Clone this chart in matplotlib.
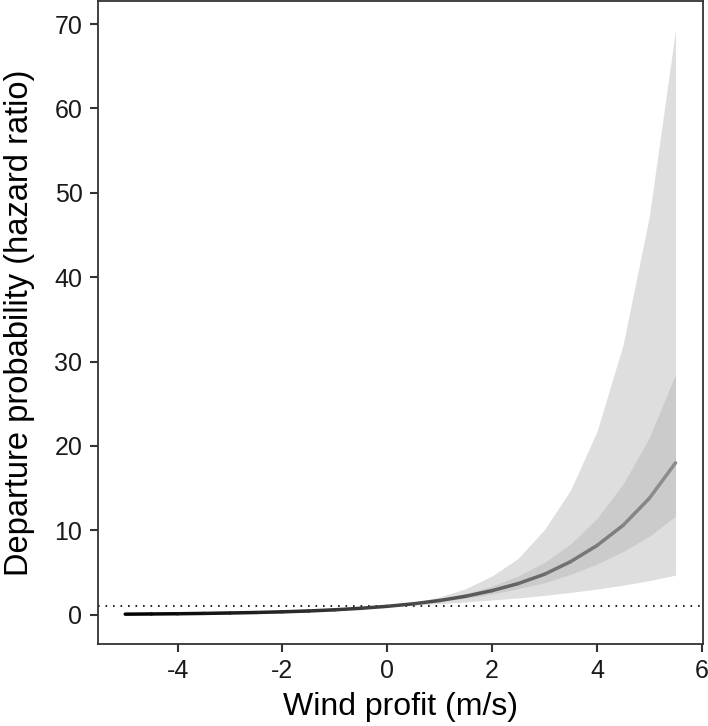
import matplotlib

matplotlib.use("Agg")
import matplotlib.pyplot as plt
import numpy as np
from matplotlib.collections import LineCollection
from matplotlib.colors import to_rgb

plt.rcParams["font.family"] = ["Liberation Sans", "DejaVu Sans"]
plt.rcParams["axes.unicode_minus"] = False

# Wind profit (m/s), 0.5 steps
wind = [-5.0, -4.5, -4.0, -3.5, -3.0, -2.5, -2.0, -1.5, -1.0, -0.5, 0.0,
        0.5, 1.0, 1.5, 2.0, 2.5, 3.0, 3.5, 4.0, 4.5, 5.0, 5.5]

# fitted hazard ratio
hr_mean = [0.072, 0.094, 0.12, 0.16, 0.21, 0.27, 0.35, 0.45, 0.59, 0.77, 1.0,
           1.3, 1.69, 2.2, 2.86, 3.7, 4.8, 6.3, 8.2, 10.6, 13.8, 18.0]

# inner band
inner_lo = [0.048, 0.064, 0.088, 0.119, 0.161, 0.218, 0.296, 0.40, 0.544, 0.74, 1.0,
            1.25, 1.56, 1.95, 2.45, 3.1, 3.8, 4.8, 6.0, 7.5, 9.3, 11.7]
inner_hi = [0.107, 0.134, 0.167, 0.209, 0.26, 0.327, 0.41, 0.51, 0.64, 0.80, 1.0,
            1.36, 1.84, 2.5, 3.4, 4.6, 6.2, 8.4, 11.4, 15.5, 21.0, 28.5]

# outer band
outer_lo = [0.021, 0.031, 0.046, 0.067, 0.099, 0.146, 0.21, 0.31, 0.46, 0.68, 1.0,
            1.15, 1.32, 1.52, 1.75, 2.0, 2.3, 2.65, 3.05, 3.5, 4.05, 4.7]
outer_hi = [0.245, 0.28, 0.325, 0.37, 0.43, 0.495, 0.57, 0.66, 0.755, 0.87, 1.0,
            1.45, 2.1, 3.1, 4.6, 6.7, 10.1, 14.8, 21.7, 32.0, 47.2, 69.3]

x_ticks = [-4, -2, 0, 2, 4, 6]
y_ticks = [0, 10, 20, 30, 40, 50, 60, 70]

frame = "#333333"

fig = plt.figure(figsize=(7.08, 7.26), dpi=100)
ax = fig.add_axes([0.138, 0.113, 0.855, 0.886])

ax.fill_between(wind, outer_lo, outer_hi, color="#dedede", linewidth=0)
ax.fill_between(wind, inner_lo, inner_hi, color="#cbcbcb", linewidth=0)

ax.axhline(1, color="black", linestyle=(0, (1, 3.5)), linewidth=1.2)

# line shading from black to grey along x
pts = np.column_stack([wind, hr_mean])
segs = np.stack([pts[:-1], pts[1:]], axis=1)
dark = np.array(to_rgb("#000000"))
light = np.array(to_rgb("#8c8c8c"))
t = np.linspace(0, 1, len(segs))
cols = [tuple(dark + (light - dark) * f) for f in t]
ax.add_collection(LineCollection(segs, colors=cols, linewidths=2.5,
                                 capstyle="round", joinstyle="round"))

ax.set_xlim(-5.525, 6.025)
ax.set_ylim(-3.46, 72.76)
ax.set_xticks(x_ticks)
ax.set_yticks(y_ticks)

for spine in ax.spines.values():
    spine.set_color(frame)
    spine.set_linewidth(1.3)
ax.tick_params(direction="out", length=6, width=1.5, color=frame,
               labelsize=18, labelcolor="#1a1a1a", pad=5)

ax.set_xlabel("Wind profit (m/s)", fontsize=23, labelpad=6)
ax.set_ylabel("Departure probability (hazard ratio)", fontsize=23.5, labelpad=14)

fig.savefig("out.png", dpi=100)
